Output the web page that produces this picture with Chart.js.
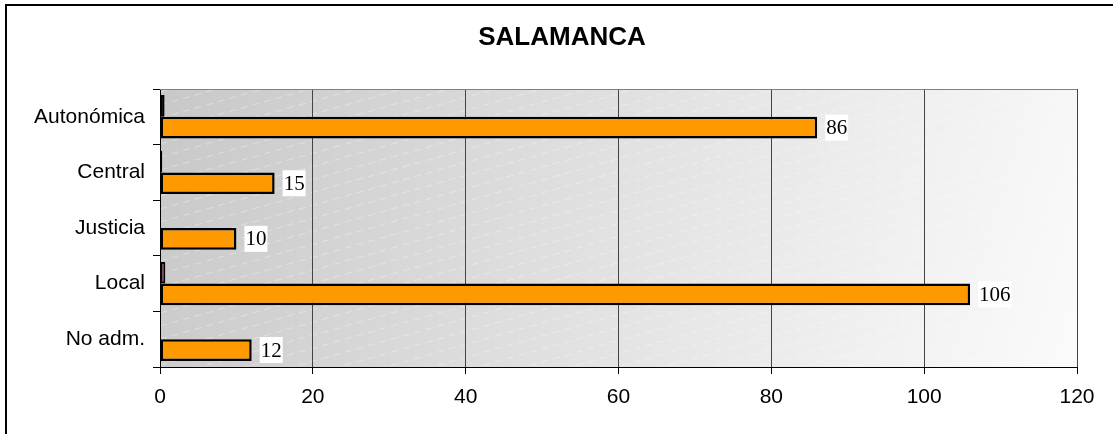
<!DOCTYPE html>
<html>
<head>
<meta charset="UTF-8">
<title>SALAMANCA</title>
<script src="https://cdn.jsdelivr.net/npm/chart.js@4"></script>
<style>
  html, body { margin: 0; padding: 0; background: #fff; }
  #wrap { width: 1113px; height: 434px; position: relative; }
</style>
</head>
<body>
<div id="wrap"><canvas id="chart"></canvas></div>
<script>
// data
const categories = ['Autonómica', 'Central', 'Justicia', 'Local', 'No adm.'];
const smallValues = [0.6, 0.3, 0, 0.7, 0];
const mainValues = [86, 15, 10, 106, 12];
const xTicks = [0, 20, 40, 60, 80, 100, 120];
const chartTitle = 'SALAMANCA';

// frame, plot background and title
const framePlugin = {
    id: 'frame',
    beforeDraw(chart) {
        const ctx = chart.ctx;
        const a = chart.chartArea;
        ctx.save();
        // outer border (only left + top visible)
        ctx.strokeStyle = '#000';
        ctx.lineWidth = 2;
        ctx.strokeRect(6, 5, 1200, 600);

        // plot area gradient
        const g = ctx.createLinearGradient(a.left, a.top, a.right, a.bottom);
        g.addColorStop(0, '#c8c8c8');
        g.addColorStop(0.5, '#e2e2e2');
        g.addColorStop(1, '#fbfbfb');
        ctx.fillStyle = g;
        ctx.fillRect(a.left, a.top, a.right - a.left, a.bottom - a.top);

        // faint diagonal dashes
        ctx.beginPath();
        ctx.rect(a.left, a.top, a.right - a.left, a.bottom - a.top);
        ctx.clip();
        ctx.strokeStyle = 'rgba(255,255,255,0.35)';
        ctx.lineWidth = 1;
        ctx.setLineDash([7, 5]);
        const w = a.right - a.left;
        for (let y0 = a.top - 10; y0 < a.bottom + w * 0.3; y0 += 13) {
            ctx.beginPath();
            ctx.moveTo(a.left, y0);
            ctx.lineTo(a.right, y0 - w * 0.28);
            ctx.stroke();
        }
        ctx.restore();

        // title
        ctx.save();
        ctx.fillStyle = '#000';
        ctx.font = 'bold 26px "Liberation Sans", Arial, sans-serif';
        ctx.textAlign = 'center';
        ctx.textBaseline = 'middle';
        ctx.fillText(chartTitle, 562, 38);
        ctx.restore();
    },
    afterDatasetsDraw(chart) {
        const ctx = chart.ctx;
        const a = chart.chartArea;
        ctx.save();
        // top border of plot area
        ctx.strokeStyle = '#808080';
        ctx.lineWidth = 1;
        ctx.beginPath();
        ctx.moveTo(a.left, a.top + 0.5);
        ctx.lineTo(a.right, a.top + 0.5);
        ctx.stroke();

        // value labels on the orange series
        const meta = chart.getDatasetMeta(1);
        ctx.font = '21px "Liberation Serif", "Times New Roman", serif';
        ctx.textBaseline = 'middle';
        meta.data.forEach((bar, i) => {
            const txt = String(mainValues[i]);
            const tw = ctx.measureText(txt).width;
            const x = bar.x + 8;
            const y = bar.y;
            ctx.fillStyle = '#fff';
            ctx.fillRect(x, y - 13, tw + 2, 26);
            ctx.fillStyle = '#000';
            ctx.fillText(txt, x + 1, y + 1);
        });
        ctx.restore();
    }
};

const tickFont = { family: '"Liberation Sans", Arial, sans-serif', size: 21 };

new Chart(document.getElementById('chart'), {
    type: 'bar',
    data: {
        labels: categories,
        datasets: [{
            label: 'Serie 1',
            data: smallValues,
            backgroundColor: '#993366',
            borderColor: '#000',
            borderWidth: 2,
            borderSkipped: false
        }, {
            label: 'Serie 2',
            data: mainValues,
            backgroundColor: '#ff9900',
            borderColor: '#000',
            borderWidth: 2.5,
            borderSkipped: false
        }]
    },
    options: {
        indexAxis: 'y',
        responsive: true,
        maintainAspectRatio: false,
        animation: false,
        layout: { padding: { top: 89, right: 36, bottom: 0, left: 0 } },
        datasets: { bar: { categoryPercentage: 0.78, barPercentage: 1 } },
        plugins: {
            legend: { display: false },
            tooltip: { enabled: false }
        },
        scales: {
            x: {
                min: 0, max: 120,
                afterBuildTicks: s => { s.ticks = xTicks.map(v => ({ value: v })); },
                afterFit: s => { s.height = 67; },
                grid: { color: '#444', lineWidth: 1, tickLength: 7, drawTicks: true, tickColor: '#000' },
                border: { color: '#000', width: 1 },
                ticks: { color: '#000', font: tickFont, padding: 11, maxRotation: 0 }
            },
            y: {
                afterFit: s => { s.width = 160; },
                grid: { drawOnChartArea: false, offset: true, tickLength: 7, color: '#000' },
                border: { color: '#000', width: 1 },
                ticks: { color: '#000', font: tickFont, padding: 8 }
            }
        }
    },
    plugins: [framePlugin]
});
</script>
</body>
</html>
